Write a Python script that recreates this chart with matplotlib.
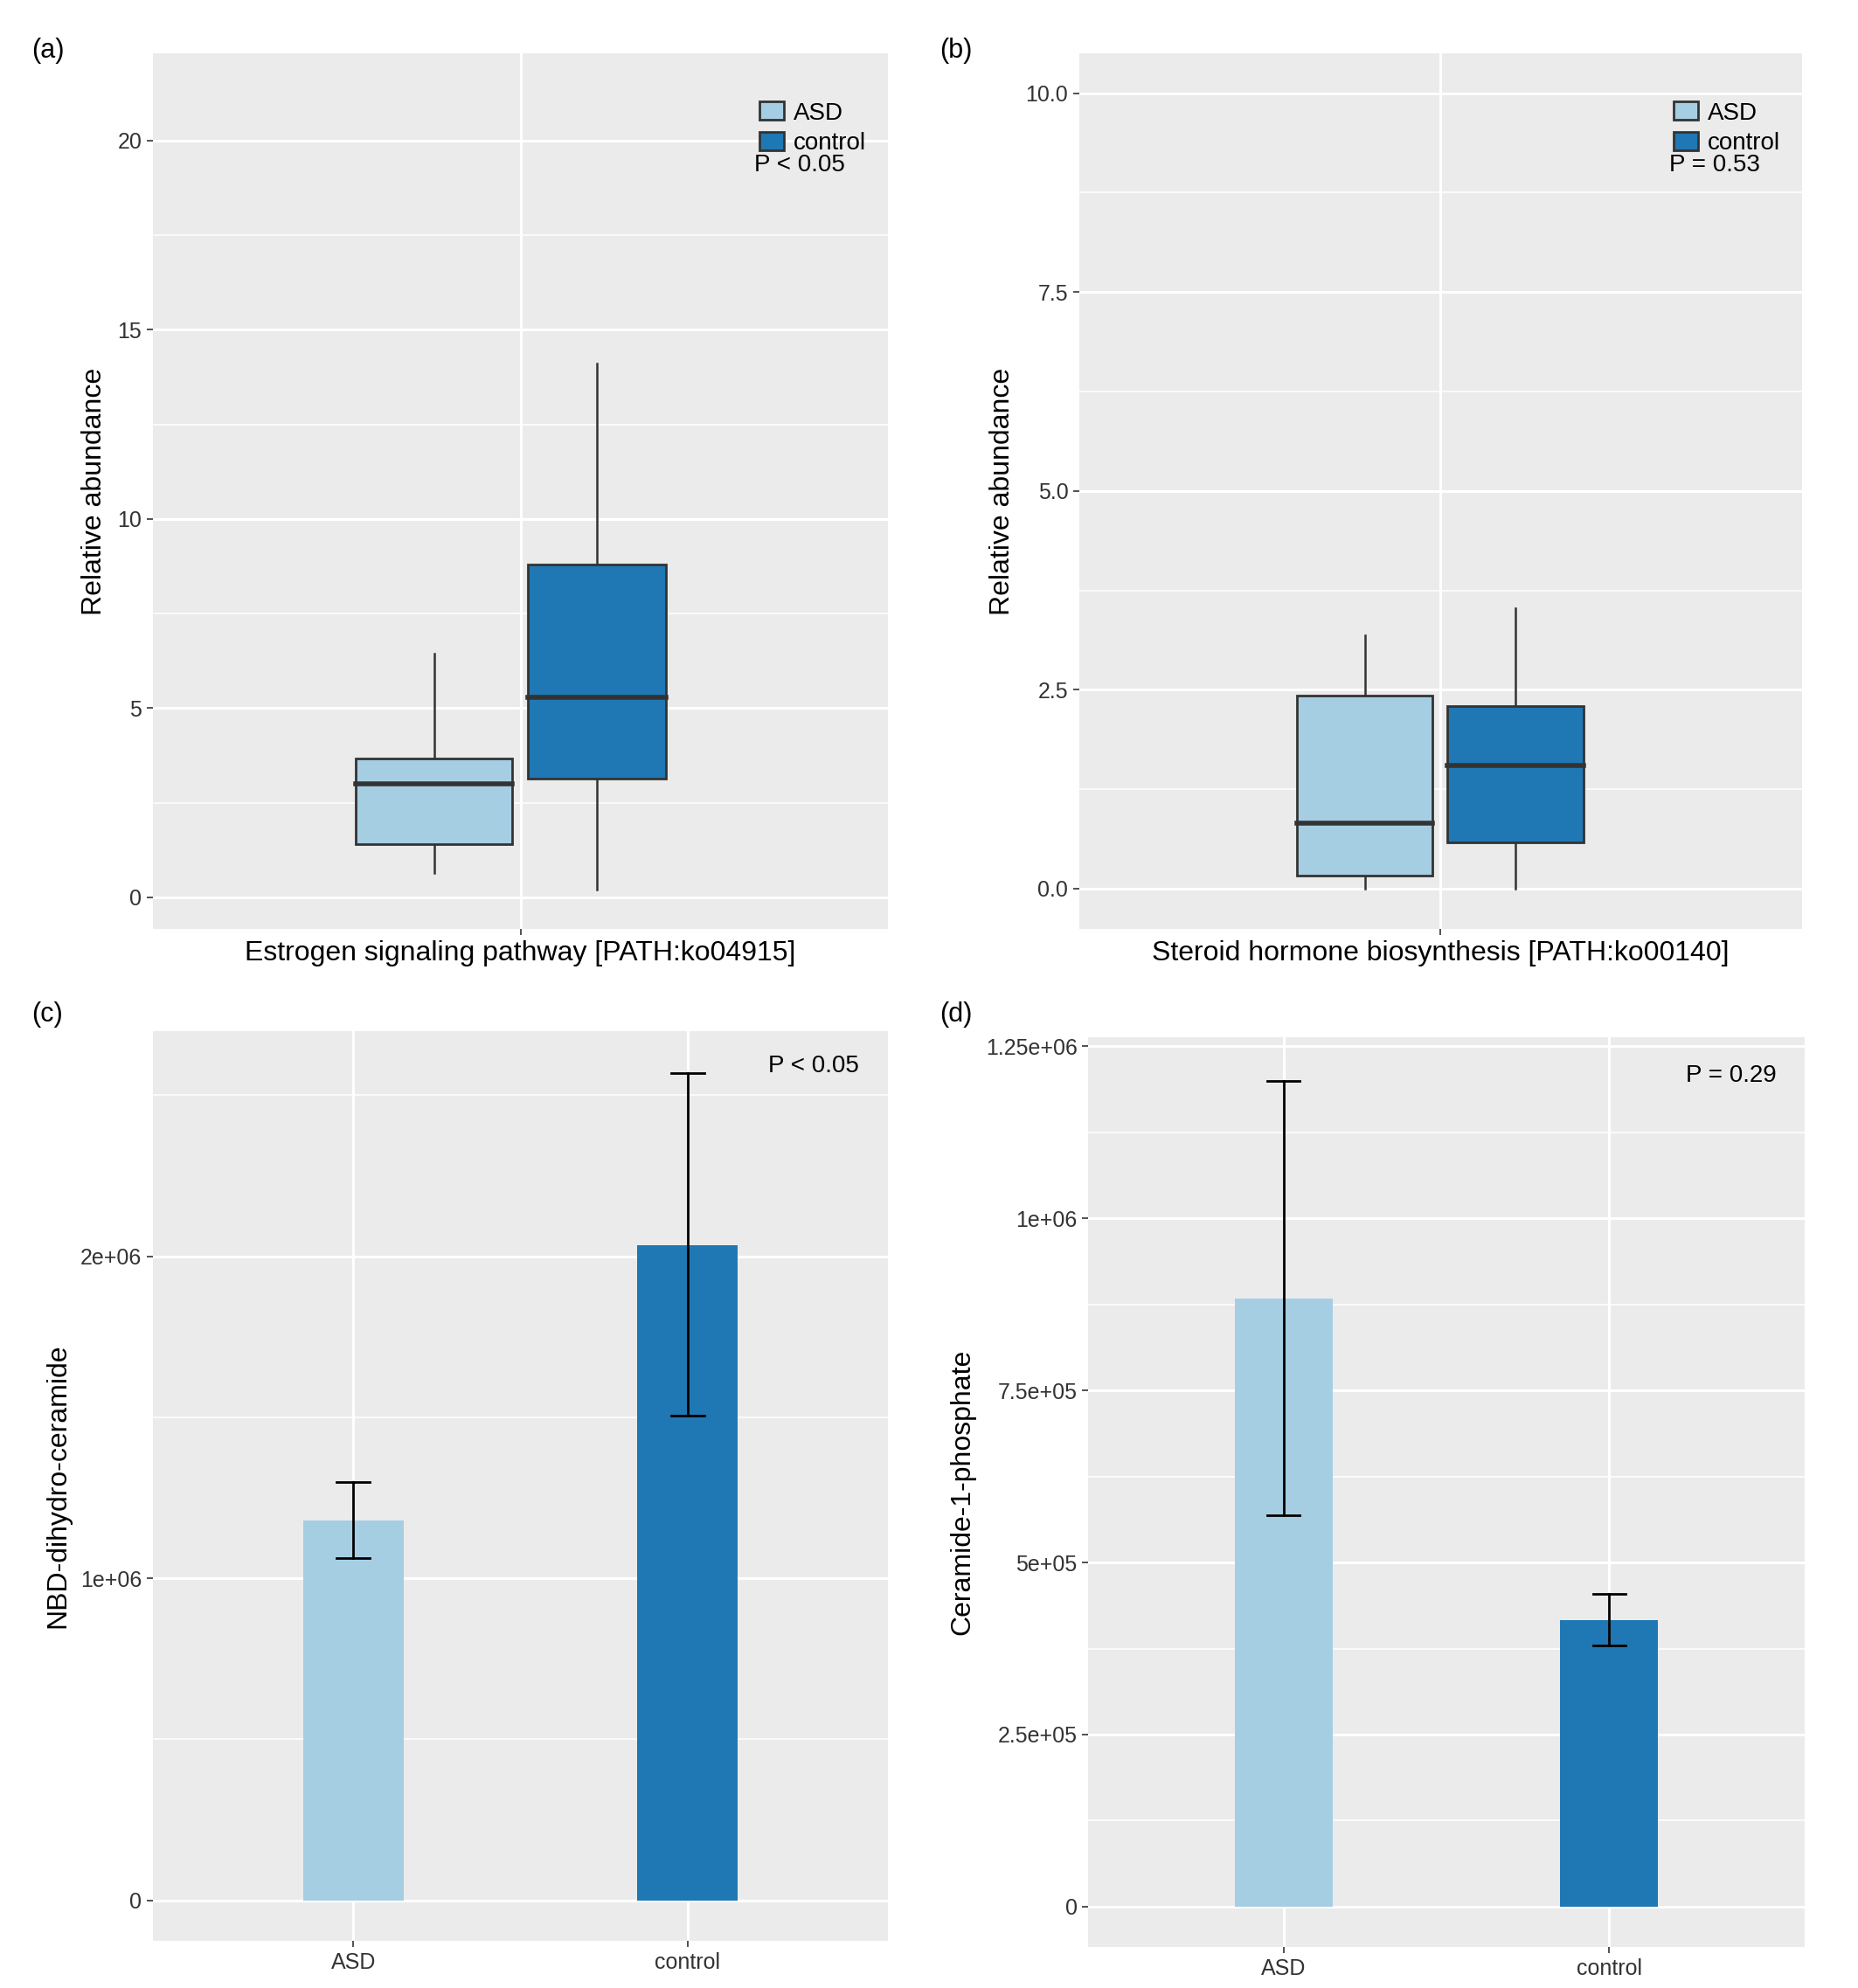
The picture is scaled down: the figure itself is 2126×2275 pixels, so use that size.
import matplotlib.pyplot as plt
import matplotlib.patches as mpatches
import numpy as np

plt.rcParams['font.family'] = ['Liberation Sans', 'DejaVu Sans']

LIGHT = '#a6cee3'
DARK = '#1f78b4'
BG = '#ebebeb'

groups = ['ASD', 'control']
# box stats: low whisker, q1, median, q3, high whisker
box_a = {'ASD': [0.64, 1.41, 3.0, 3.67, 6.43], 'control': [0.2, 3.13, 5.29, 8.79, 14.1]}
box_b = {'ASD': [0.0, 0.16, 0.82, 2.43, 3.18], 'control': [0.0, 0.58, 1.55, 2.29, 3.52]}
pos_a = [0.859, 1.125]; wid_a = [0.256, 0.225]
pos_b = [0.874, 1.124]; wid_b = [0.226, 0.226]

bar_c = [1.18e6, 2.035e6]
err_c_lo = [1.063e6, 1.506e6]
err_c_hi = [1.30e6, 2.57e6]
bar_d = [0.884e6, 0.416e6]
err_d_lo = [0.568e6, 0.379e6]
err_d_hi = [1.2e6, 0.455e6]

fig = plt.figure(figsize=(10.63, 11.375), dpi=200)
W, H = 1460, 1562
def mk(l, r, t, b):
    return fig.add_axes([l / W, 1 - b / H, (r - l) / W, (b - t) / H])

axa = mk(120, 698, 42, 730)
axb = mk(848, 1416, 42, 730)
axc = mk(120, 698, 810, 1525)
axd = mk(855, 1418, 815, 1530)

def style(ax):
    ax.set_facecolor(BG)
    for s in ax.spines.values():
        s.set_visible(False)
    ax.grid(True, which='major', color='white', lw=1.1)
    ax.grid(True, which='minor', color='white', lw=0.55)
    ax.set_axisbelow(True)
    ax.tick_params(which='major', length=2.5, width=0.6, color='#333333', labelsize=9, labelcolor='#333333', pad=2)
    ax.tick_params(which='minor', length=0)

def boxes(ax, stats, pos, wid):
    for g, p, w, c in zip(groups, pos, wid, [LIGHT, DARK]):
        lo, q1, md, q3, hi = stats[g]
        ax.add_patch(mpatches.Rectangle((p - w / 2, q1), w, q3 - q1, fc=c, ec='#333333', lw=1.0, zorder=3))
        ax.plot([p - w / 2, p + w / 2], [md, md], color='#333333', lw=2.0, zorder=4)
        ax.plot([p, p], [q3, hi], color='#333333', lw=0.9, zorder=2)
        ax.plot([p, p], [lo, q1], color='#333333', lw=0.9, zorder=2)
    ax.set_xlim(0.4, 1.6)
    ax.set_xticks([1])
    ax.set_xticks([], minor=True)
    handles = [mpatches.Patch(fc=LIGHT, ec='#333333', label='ASD'),
               mpatches.Patch(fc=DARK, ec='#333333', label='control')]
    ax.legend(handles=handles, loc='upper right', bbox_to_anchor=(1.0, 0.97), frameon=False,
              fontsize=10, handlelength=1.0, handleheight=0.8, handletextpad=0.4, labelspacing=0.3)
    ax.set_ylabel('Relative abundance', fontsize=11.5)

style(axa)
boxes(axa, box_a, pos_a, wid_a)
axa.set_ylim(-0.84, 22.3)
axa.set_yticks([0, 5, 10, 15, 20])
axa.set_yticks([2.5, 7.5, 12.5, 17.5], minor=True)
axa.set_xticklabels(['Estrogen signaling pathway [PATH:ko04915]'], fontsize=11.5, color='black')
axa.text(0.879, 0.865, 'P < 0.05', transform=axa.transAxes, ha='center', fontsize=10)

style(axb)
boxes(axb, box_b, pos_b, wid_b)
axb.set_ylim(-0.51, 10.5)
axb.set_yticks([0, 2.5, 5, 7.5, 10])
axb.set_yticklabels(['0.0', '2.5', '5.0', '7.5', '10.0'])
axb.set_yticks([1.25, 3.75, 6.25, 8.75], minor=True)
axb.set_xticklabels(['Steroid hormone biosynthesis [PATH:ko00140]'], fontsize=11.5, color='black')
axb.text(0.879, 0.865, 'P = 0.53', transform=axb.transAxes, ha='center', fontsize=10)

def bars(ax, vals, lo, hi):
    x = np.arange(1, 3)
    ax.bar(x, vals, width=0.3, color=[LIGHT, DARK], zorder=3)
    for xi, l, h in zip(x, lo, hi):
        ax.plot([xi, xi], [l, h], color='black', lw=1.0, zorder=4)
        ax.plot([xi - 0.05, xi + 0.05], [l, l], color='black', lw=1.0, zorder=4)
        ax.plot([xi - 0.05, xi + 0.05], [h, h], color='black', lw=1.0, zorder=4)
    ax.set_xlim(0.4, 2.6)
    ax.set_xticks(x)
    ax.set_xticklabels(groups, fontsize=9, color='#333333')

style(axc)
bars(axc, bar_c, err_c_lo, err_c_hi)
axc.set_ylim(-0.126e6, 2.70e6)
axc.set_yticks([0, 1e6, 2e6])
axc.set_yticklabels(['0', '1e+06', '2e+06'])
axc.set_yticks([0.5e6, 1.5e6, 2.5e6], minor=True)
axc.set_ylabel('NBD-dihydro-ceramide', fontsize=11.5)
axc.text(0.899, 0.961, 'P < 0.05', transform=axc.transAxes, ha='center', va='center', fontsize=10)

style(axd)
bars(axd, bar_d, err_d_lo, err_d_hi)
axd.set_ylim(-0.059e6, 1.263e6)
axd.set_yticks([0, 2.5e5, 5e5, 7.5e5, 1e6, 1.25e6])
axd.set_yticklabels(['0', '2.5e+05', '5e+05', '7.5e+05', '1e+06', '1.25e+06'])
axd.set_yticks([1.25e5, 3.75e5, 6.25e5, 8.75e5, 1.125e6], minor=True)
axd.set_ylabel('Ceramide-1-phosphate', fontsize=11.5)
axd.text(0.897, 0.958, 'P = 0.29', transform=axd.transAxes, ha='center', va='center', fontsize=10)

for lab, x, y in [('(a)', 25, 40), ('(b)', 738, 40), ('(c)', 25, 797), ('(d)', 738, 797)]:
    fig.text(x / W, 1 - y / H, lab, fontsize=11, ha='left', va='center')

fig.savefig('out.png', dpi=200)
